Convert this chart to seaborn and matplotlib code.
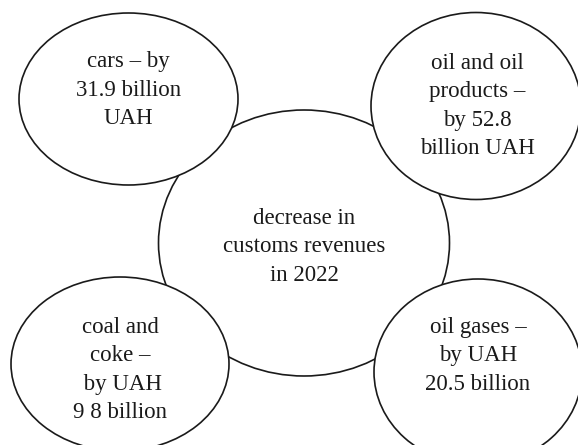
import matplotlib
matplotlib.use("Agg")
import matplotlib.pyplot as plt
from matplotlib.patches import Ellipse
import seaborn as sns

sns.set_theme(style="white")
plt.rcParams['font.family'] = ['Liberation Serif', 'DejaVu Serif']

# texts in the bubbles
center_label = "decrease in\ncustoms revenues\nin 2022"
items = ["cars – by\n31.9 billion\nUAH",
         "oil and oil\nproducts –\nby 52.8\nbillion UAH",
         "coal and\ncoke –\n by UAH\n9 8 billion",
         "oil gases –\nby UAH\n20.5 billion"]

# layout (pixels, y down)
center_pos = (304, 243)
center_size = (291, 266)
item_pos = [(128.5, 99), (476, 106), (120, 364), (478, 372)]
item_size = [(219, 172), (210, 187), (218, 174), (208, 186)]
text_pos = [(128.5, 90), (477, 106), (120, 370), (478, 356)]

W, H = 578, 445
fig = plt.figure(figsize=(W / 100, H / 100), dpi=100)
ax = fig.add_axes([0, 0, 1, 1])
ax.set_xlim(0, W)
ax.set_ylim(H, 0)
ax.axis("off")

ax.add_patch(Ellipse(center_pos, *center_size, facecolor="white",
                     edgecolor="#1a1a1a", lw=1.2, zorder=1))
ax.text(center_pos[0], 247, center_label, ha="center", va="center",
        fontsize=16.5, color="#1a1a1a", linespacing=1.44, zorder=2)

for lab, pos, size, tp in zip(items, item_pos, item_size, text_pos):
    ax.add_patch(Ellipse(pos, *size, facecolor="white",
                         edgecolor="#1a1a1a", lw=1.2, zorder=3))
    ax.text(tp[0], tp[1], lab, ha="center", va="center",
            fontsize=16.5, color="#1a1a1a", linespacing=1.44, zorder=4)

fig.savefig("out.png", dpi=100, facecolor="white")
